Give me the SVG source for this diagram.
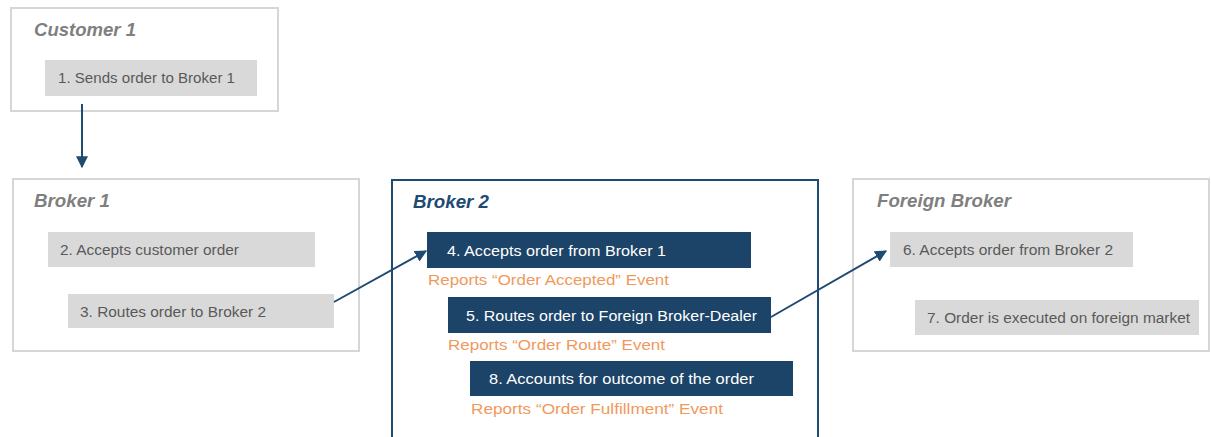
<svg xmlns="http://www.w3.org/2000/svg" width="1211" height="437" viewBox="0 0 1211 437">
<defs>
<style>
.box{fill:#fff;stroke:#d6d6d6;stroke-width:2}
.box2{fill:#fff;stroke:#1f4a72;stroke-width:2}
.g{fill:#d9d9d9}
.b{fill:#1c4368}
.t{font-family:"Liberation Sans",Arial,sans-serif;font-size:15.5px}
.gt{fill:#595959}
.wt{fill:#ffffff}
.ot{fill:#f0995c}
.title{font-family:"Liberation Sans",Arial,sans-serif;font-size:17.5px;font-weight:bold;font-style:italic}
.conn{stroke:#1f4a72;stroke-width:2;fill:none}
</style>
<marker id="ah" viewBox="0 0 10 10" refX="9" refY="5" markerWidth="6" markerHeight="6" orient="auto" markerUnits="strokeWidth">
<path d="M0,0 L10,5 L0,10 z" fill="#1f4a72"/>
</marker>
</defs>
<rect width="1211" height="437" fill="#fff"/>
<g id="customer1">
<rect class="box" x="11" y="8" width="267" height="103"/>
<text class="title" x="34" y="36" fill="#7f7f7f" textLength="102" lengthAdjust="spacingAndGlyphs">Customer 1</text>
<rect class="g" x="45" y="60" width="212" height="36"/>
<text class="t gt" x="58" y="83" textLength="177" lengthAdjust="spacingAndGlyphs">1. Sends order to Broker 1</text>
</g>
<g id="broker1">
<rect class="box" x="13" y="179" width="346" height="172"/>
<text class="title" x="34" y="207" fill="#7f7f7f" textLength="76" lengthAdjust="spacingAndGlyphs">Broker 1</text>
<rect class="g" x="48" y="232" width="267" height="35"/>
<text class="t gt" x="60" y="255" textLength="179" lengthAdjust="spacingAndGlyphs">2. Accepts customer order</text>
<rect class="g" x="68" y="294" width="266" height="34"/>
<text class="t gt" x="80" y="317" textLength="186" lengthAdjust="spacingAndGlyphs">3. Routes order to Broker 2</text>
</g>
<g id="broker2">
<rect class="box2" x="392" y="180" width="426" height="270"/>
<text class="title" x="413" y="208" fill="#1f4a72" textLength="76" lengthAdjust="spacingAndGlyphs">Broker 2</text>
<rect class="b" x="427" y="232" width="324" height="36"/>
<text class="t wt" x="447" y="256" textLength="219" lengthAdjust="spacingAndGlyphs">4. Accepts order from Broker 1</text>
<text class="t ot" x="428" y="285" textLength="241" lengthAdjust="spacingAndGlyphs">Reports “Order Accepted” Event</text>
<rect class="b" x="448" y="297" width="323" height="36"/>
<text class="t wt" x="466" y="321" textLength="291" lengthAdjust="spacingAndGlyphs">5. Routes order to Foreign Broker-Dealer</text>
<text class="t ot" x="448" y="350" textLength="217" lengthAdjust="spacingAndGlyphs">Reports “Order Route” Event</text>
<rect class="b" x="470" y="361" width="323" height="35"/>
<text class="t wt" x="489" y="384" textLength="265" lengthAdjust="spacingAndGlyphs">8. Accounts for outcome of the order</text>
<text class="t ot" x="471" y="414" textLength="252" lengthAdjust="spacingAndGlyphs">Reports “Order Fulfillment” Event</text>
</g>
<g id="foreignbroker">
<rect class="box" x="853" y="179" width="356" height="172"/>
<text class="title" x="877" y="207" fill="#7f7f7f" textLength="134" lengthAdjust="spacingAndGlyphs">Foreign Broker</text>
<rect class="g" x="890" y="232" width="243" height="35"/>
<text class="t gt" x="903" y="255" textLength="210" lengthAdjust="spacingAndGlyphs">6. Accepts order from Broker 2</text>
<rect class="g" x="915" y="300" width="284" height="35"/>
<text class="t gt" x="927" y="323" textLength="263" lengthAdjust="spacingAndGlyphs">7. Order is executed on foreign market</text>
</g>
<g id="connectors">
<line class="conn" x1="82" y1="104" x2="82" y2="167" marker-end="url(#ah)"/>
<line class="conn" x1="334" y1="302" x2="426" y2="251" marker-end="url(#ah)"/>
<line class="conn" x1="771" y1="317" x2="886" y2="251" marker-end="url(#ah)"/>
</g>
</svg>
